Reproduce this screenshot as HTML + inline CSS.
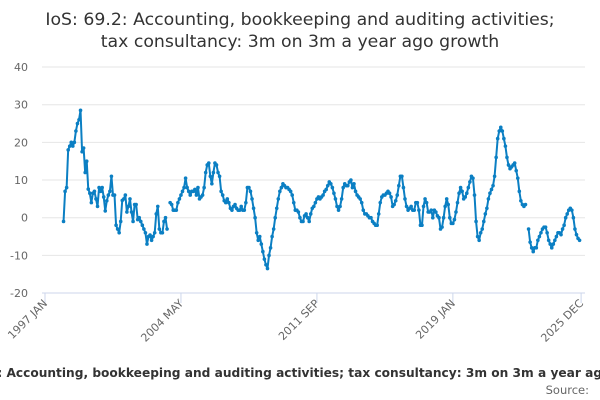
<!DOCTYPE html>
<html><head><meta charset="utf-8"><style>
html,body{margin:0;padding:0;background:#fff;}
svg{display:block;font-family:"DejaVu Sans","Liberation Sans",sans-serif;}
</style></head><body>
<svg id="chart" width="600" height="400" viewBox="0 0 600 400" xmlns="http://www.w3.org/2000/svg">
<text x="300" y="25" text-anchor="middle" font-size="17.3" fill="#333">IoS: 69.2: Accounting, bookkeeping and auditing activities;</text>
<text x="300" y="47" text-anchor="middle" font-size="17.3" fill="#333">tax consultancy: 3m on 3m a year ago growth</text>
<g id="grid"></g><g id="xaxis"></g><g id="series"></g>
<text x="300" y="377" text-anchor="middle" font-size="12.2" font-weight="bold" fill="#333">IoS: 69.2: Accounting, bookkeeping and auditing activities; tax consultancy: 3m on 3m a year ago growth</text>
<text x="589" y="394" text-anchor="end" font-size="11.5" fill="#666">Source:</text>
</svg>
<script>
const yTicks=[40,30,20,10,0,-10,-20];
const xTickMonths=[0,88,176,264,347];
const xTickLabels=["1997 JAN","2004 MAY","2011 SEP","2019 JAN","2025 DEC"];
const startMonth=12;
const values=[-1,7,8,18,19,20,19,20,23,25,26,28.5,
17.5,18.5,12,15,7.6,6.5,4,6.5,7,5,3,8,7,8,5.5,1.8,4.5,6,7,11,6,6,-2,-3,-4,-1,4.6,5,6,1.5,3,5,1.5,-1,3.5,3.5,-0.5,0,-1,-2,-3,-4,-7,-5,-4.6,-6,-5,-4,1,3,-3,-4,-4,-1,0,-3,
null,
4,3.5,2,2,2,4,5,6,7,8,10.5,8,7,6,7,7,7.5,6,8,5,5.5,6,8,12,14,14.5,11,9,12,14.5,14,12,11,7,6,4.5,4,5,4,2.5,2,3,3.5,2.5,2,2,3,2,2,4,8,8,7,5,2.5,0,-4,-6,-5,-7,-9,-11,-12.5,-13.5,-10,-8,-5,-3,0,2.5,5,7,8,9,8.5,8,8,7.5,7,6,4,2,2,1.5,0,-1,-1,0.5,1,0,-1,1,2.5,3,4,5,5.5,5,5.5,6,7,7.5,8.5,9.5,9,8,6.5,5,3,2,3,5,8,9,8.5,8.5,9.5,10,8,9,7,6,5.5,5,4,2,1,1,0.5,0,0,-1,-1.5,-2,-2,1,4,5.5,6,6,6.5,7,6.5,5.5,3,3.5,4.5,6,8.5,11,11,8,5,3,2,2.5,3,2,2,4,4,2,-2,-2,3,5,4,1.5,1.5,2,0,2,1.5,0.5,0,-3,-2.5,0,3,5,3.5,0,-1.5,-1.5,-0.5,1.5,4,6.5,8,7,5,5.5,6.5,8,9.5,11,10.5,6,-1,-5,-6,-4,-3,-1,1,2.5,5,6.5,7.5,8.5,11,16,21,23,24,23,21,19,16,14,13,13.5,14,14.5,12.5,10.5,7,4.5,3.5,3,3.5,
null,
-3,-6.5,-8,-9,-8,-8,-6,-5,-4,-3,-2.5,-2.5,-4,-6,-7,-8,-7,-6,-5,-4,-4,-4.5,-3,-2,0,1,2,2.5,2,0,-3,-4.5,-5.5,-6];
const NS="http://www.w3.org/2000/svg";
const X0=45,PXM=1.545,Y0=217.7,PXU=3.767;
function xs(m){return X0+m*PXM;}
function ys(v){return Y0-v*PXU;}
const grid=document.getElementById('grid');
yTicks.forEach(v=>{
  const l=document.createElementNS(NS,'line');
  
  
  l.setAttribute('x1',42);l.setAttribute('x2',585);
  l.setAttribute('y1',ys(v));l.setAttribute('y2',ys(v));
  l.setAttribute('stroke',v===-20?'#ccd6eb':'#e6e6e6');l.setAttribute('stroke-width',1);
  grid.appendChild(l);
  const t=document.createElementNS(NS,'text');
  
  
  t.setAttribute('x',28);t.setAttribute('y',ys(v)+4);
  t.setAttribute('text-anchor','end');t.setAttribute('font-size','11');t.setAttribute('fill','#666');
  t.textContent=v;grid.appendChild(t);
});
const xa=document.getElementById('xaxis');
xTickMonths.forEach((m,i)=>{
  const x=xs(m);
  const tk=document.createElementNS(NS,'line');
  
  
  tk.setAttribute('x1',x);tk.setAttribute('x2',x);tk.setAttribute('y1',293);tk.setAttribute('y2',303);
  tk.setAttribute('stroke','#ccd6eb');xa.appendChild(tk);
  const t=document.createElementNS(NS,'text');
  
  
  t.setAttribute('x',x+3);t.setAttribute('y',304);
  t.setAttribute('text-anchor','end');t.setAttribute('font-size','11');t.setAttribute('fill','#666');
  t.setAttribute('transform','rotate(-45 '+(x+3)+' 304)');
  t.textContent=xTickLabels[i];xa.appendChild(t);
});
const sg=document.getElementById('series');
let seg=[];
function flush(){
  if(seg.length>1){
    const p=document.createElementNS(NS,'polyline');
    
    
    p.setAttribute('points',seg.map(q=>q.join(',')).join(' '));
    p.setAttribute('fill','none');p.setAttribute('stroke','#0b7fc3');p.setAttribute('stroke-width','2');
    p.setAttribute('stroke-linejoin','round');
    sg.appendChild(p);
  }
  seg=[];
}
values.forEach((v,i)=>{
  if(v===null){flush();return;}
  seg.push([xs(startMonth+i).toFixed(2),ys(v).toFixed(2)]);
});
flush();
values.forEach((v,i)=>{
  if(v===null)return;
  const c=document.createElementNS(NS,'circle');
  
  
  c.setAttribute('cx',xs(startMonth+i));c.setAttribute('cy',ys(v));c.setAttribute('r',1.8);
  c.setAttribute('fill','#0b7fc3');
  sg.appendChild(c);
});
</script>
</body></html>
